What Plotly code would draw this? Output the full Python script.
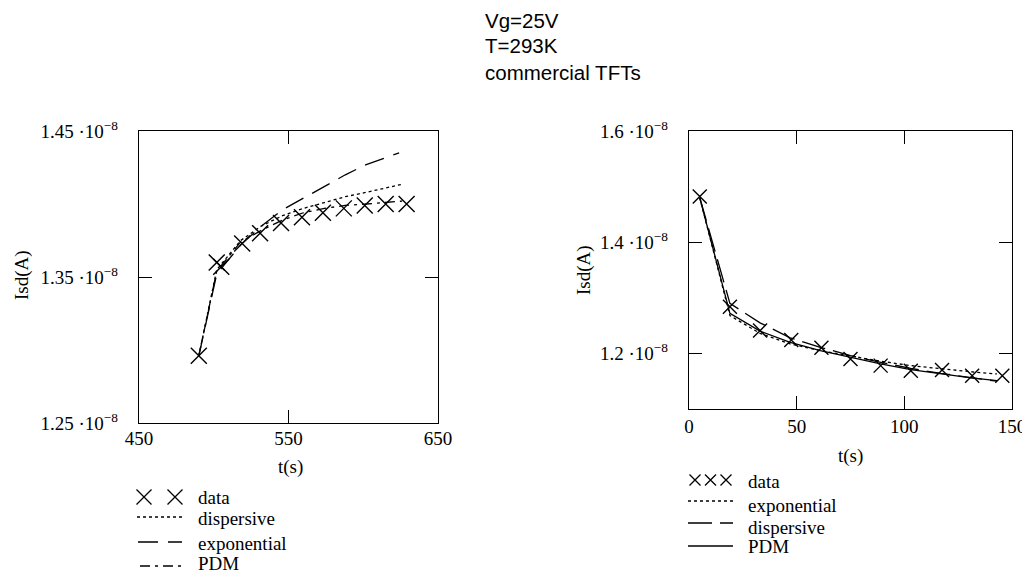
import plotly.graph_objects as go

# page is 1030x579; the html body adds an 8px margin, so the figure is shifted by OFF
PAGE_W, PAGE_H = 1030, 579
OFF = 8
W, H = PAGE_W - OFF, PAGE_H - OFF

# ---------------- data (Isd in units of 1e-8 A) ----------------
left_t_data = [490, 502, 505, 519, 531, 545, 559, 573, 587, 601, 615, 629]
left_I_data = [1.296, 1.360, 1.357, 1.373, 1.380, 1.387, 1.391, 1.394, 1.397, 1.399, 1.400, 1.400]

left_t_model = [490, 502, 518, 532, 546, 560, 574, 588, 602, 616, 626]
left_I_dispersive = [1.296, 1.355, 1.375, 1.385, 1.392, 1.397, 1.401, 1.405, 1.408, 1.411, 1.4135]
left_t_exp = [490, 502, 518, 532, 546, 560, 574, 588, 602, 616, 624]
left_I_exponential = [1.296, 1.352, 1.372, 1.385, 1.396, 1.404, 1.412, 1.420, 1.427, 1.432, 1.435]
left_I_pdm = [1.296, 1.354, 1.374, 1.382, 1.389, 1.394, 1.397, 1.399, 1.400, 1.401, 1.402]

right_t_data = [5, 19, 33, 47.5, 61.5, 75, 89, 103, 117.5, 131.5, 145.5]
right_I_data = [1.482, 1.284, 1.241, 1.224, 1.210, 1.190, 1.178, 1.169, 1.170, 1.160, 1.160]

right_t_model = [5, 19, 33, 47, 61, 75, 89, 103, 117, 131, 143]
right_I_exponential = [1.480, 1.268, 1.236, 1.217, 1.205, 1.195, 1.186, 1.178, 1.172, 1.167, 1.163]
right_I_dispersive = [1.480, 1.290, 1.255, 1.228, 1.211, 1.196, 1.184, 1.173, 1.164, 1.157, 1.150]
right_I_pdm = [1.480, 1.272, 1.240, 1.220, 1.205, 1.193, 1.181, 1.171, 1.163, 1.156, 1.151]

left_yticks = [1.25, 1.35, 1.45]
left_xticks = [450, 550, 650]
right_yticks = [1.2, 1.4, 1.6]
right_xticks = [0, 50, 100, 150]

left_legend_names = ["data", "dispersive", "exponential", "PDM"]
right_legend_names = ["data", "exponential", "dispersive", "PDM"]

title_lines = ["Vg=25V", "T=293K", "commercial TFTs"]

SCALE = 1e-8
def amps(v):
    return [x * SCALE for x in v]

SERIF = "Liberation Serif, Times New Roman, serif"
SANS = "Liberation Sans, Arial, sans-serif"
LW = 1.3
FS = 19

# line styles
DOT = "3px,3px"
LEFT_EXP_DASH = "20px,10px"
PDM_DASHDOT = "10px,5px,3px,5px"
RIGHT_DISP_DASH = "24px,8px"

fig = go.Figure()

# ---------------- left panel ----------------
fig.add_trace(go.Scatter(x=left_t_data, y=amps(left_I_data), mode="markers", name="data",
                         marker=dict(symbol="x-thin", size=16, line=dict(color="black", width=1.4)),
                         xaxis="x", yaxis="y"))
fig.add_trace(go.Scatter(x=left_t_model, y=amps(left_I_dispersive), mode="lines", name="dispersive",
                         line=dict(color="black", width=LW, dash=DOT), xaxis="x", yaxis="y"))
fig.add_trace(go.Scatter(x=left_t_exp, y=amps(left_I_exponential), mode="lines", name="exponential",
                         line=dict(color="black", width=LW, dash=LEFT_EXP_DASH), xaxis="x", yaxis="y"))
fig.add_trace(go.Scatter(x=left_t_model, y=amps(left_I_pdm), mode="lines", name="PDM",
                         line=dict(color="black", width=LW, dash=PDM_DASHDOT), xaxis="x", yaxis="y"))

# ---------------- right panel ----------------
fig.add_trace(go.Scatter(x=right_t_data, y=amps(right_I_data), mode="markers", name="data",
                         marker=dict(symbol="x-thin", size=14, line=dict(color="black", width=1.4)),
                         xaxis="x2", yaxis="y2"))
fig.add_trace(go.Scatter(x=right_t_model, y=amps(right_I_exponential), mode="lines", name="exponential",
                         line=dict(color="black", width=LW, dash=DOT), xaxis="x2", yaxis="y2"))
fig.add_trace(go.Scatter(x=right_t_model, y=amps(right_I_dispersive), mode="lines", name="dispersive",
                         line=dict(color="black", width=LW, dash=RIGHT_DISP_DASH), xaxis="x2", yaxis="y2"))
fig.add_trace(go.Scatter(x=right_t_model, y=amps(right_I_pdm), mode="lines", name="PDM",
                         line=dict(color="black", width=LW), xaxis="x2", yaxis="y2"))

# ---------------- hand-drawn legends (page-pixel overlay axis) ----------------
def leg_markers(xs, y, size):
    fig.add_trace(go.Scatter(x=xs, y=[y] * len(xs), mode="markers", showlegend=False, hoverinfo="skip",
                             marker=dict(symbol="x-thin", size=size, line=dict(color="black", width=1.3)),
                             xaxis="x3", yaxis="y3"))

def leg_line(x0, x1, y, dash):
    fig.add_trace(go.Scatter(x=[x0, x1], y=[y, y], mode="lines", showlegend=False, hoverinfo="skip",
                             line=dict(color="black", width=LW, dash=dash), xaxis="x3", yaxis="y3"))

# left legend samples
leg_markers([144, 175], 497, 15)
leg_line(137, 182, 517, DOT)
leg_line(138, 182, 542, LEFT_EXP_DASH)
leg_line(140, 182, 566, PDM_DASHDOT)
# right legend samples
leg_markers([695, 710.5, 726], 480, 11)
leg_line(688, 733, 501, DOT)
leg_line(688, 733, 523, RIGHT_DISP_DASH)
leg_line(688, 733, 546, "solid")


def px_x(p):
    return (p - OFF) / W


def px_y(p):
    return 1 - (p - OFF) / H


def sci(v):
    return f"{v:g} \u00b710<sup>\u22128</sup>"


axis_common = dict(showline=True, linecolor="black", linewidth=1.4, mirror="ticks",
                   ticks="inside", ticklen=13, tickwidth=1.4, tickcolor="black",
                   showgrid=False, zeroline=False,
                   tickfont=dict(family=SERIF, size=FS, color="black"))

fig.update_layout(
    width=W, height=H,
    margin=dict(l=0, r=0, t=0, b=0, autoexpand=False),
    paper_bgcolor="white", plot_bgcolor="rgba(0,0,0,0)",
    showlegend=False,
    xaxis=dict(domain=[px_x(139), px_x(438)], range=[450, 650], anchor="y",
               tickvals=left_xticks, ticktext=[str(v) for v in left_xticks],
               ticklabelstandoff=-2, **axis_common),
    yaxis=dict(domain=[px_y(423), px_y(131)], range=[1.25e-8, 1.45e-8], anchor="x",
               tickvals=amps(left_yticks), ticktext=[sci(v) for v in left_yticks],
               ticklabelstandoff=16, **axis_common),
    xaxis2=dict(domain=[px_x(689), px_x(1012)], range=[0, 150], anchor="y2",
                tickvals=right_xticks, ticktext=[str(v) for v in right_xticks],
                ticklabelstandoff=0, **axis_common),
    yaxis2=dict(domain=[px_y(409), px_y(131)], range=[1.1e-8, 1.6e-8], anchor="x2",
                tickvals=amps(right_yticks), ticktext=[sci(v) for v in right_yticks],
                ticklabelstandoff=16, **axis_common),
    xaxis3=dict(domain=[0, 1], range=[OFF, PAGE_W], visible=False, fixedrange=True, anchor="y3"),
    yaxis3=dict(domain=[0, 1], range=[PAGE_H, OFF], visible=False, fixedrange=True, anchor="x3"),
)

annotations = []
for line, cy in zip(title_lines, [21, 46, 72]):
    annotations.append(dict(text=line, x=px_x(483), y=px_y(cy), xref="paper", yref="paper",
                            xanchor="left", yanchor="middle", showarrow=False,
                            font=dict(family=SANS, size=20.5, color="black")))
for (cx, cy) in [(22, 275), (584, 270)]:
    annotations.append(dict(text="Isd(A)", x=px_x(cx), y=px_y(cy), xref="paper", yref="paper",
                            xanchor="center", yanchor="middle", showarrow=False, textangle=-90,
                            font=dict(family=SERIF, size=FS, color="black")))
for (cx, cy) in [(290, 467), (850, 456)]:
    annotations.append(dict(text="t(s)", x=px_x(cx), y=px_y(cy), xref="paper", yref="paper",
                            xanchor="center", yanchor="middle", showarrow=False,
                            font=dict(family=SERIF, size=FS, color="black")))
for name, cy in zip(left_legend_names, [497, 518, 543, 563]):
    annotations.append(dict(text=name, x=px_x(196), y=px_y(cy), xref="paper", yref="paper",
                            xanchor="left", yanchor="middle", showarrow=False,
                            font=dict(family=SERIF, size=FS, color="black")))
for name, cy in zip(right_legend_names, [481, 505, 527, 546]):
    annotations.append(dict(text=name, x=px_x(746), y=px_y(cy), xref="paper", yref="paper",
                            xanchor="left", yanchor="middle", showarrow=False,
                            font=dict(family=SERIF, size=FS, color="black")))
fig.update_layout(annotations=annotations)

fig.write_html("out.html")
